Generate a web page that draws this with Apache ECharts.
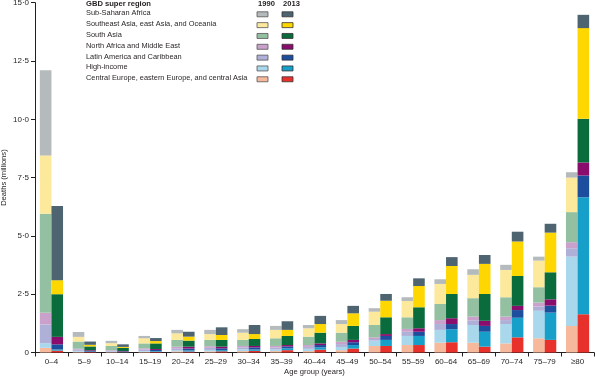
<!DOCTYPE html>
<html><head><meta charset="utf-8">
<script src="https://cdn.jsdelivr.net/npm/echarts@6/dist/echarts.min.js"></script>
<style>html,body{margin:0;padding:0;background:#fff}#c{width:595px;height:381px}</style>
</head><body><div id="c"></div>
<script>
// Categories (x-axis tick labels)
const ageGroups = ['0–4','5–9','10–14','15–19','20–24','25–29','30–34','35–39','40–44','45–49','50–54','55–59','60–64','65–69','70–74','75–79','≥80'];
// Regions, bottom of stack to top
const regions = ['Central Europe, eastern Europe, and central Asia','High-income','Latin America and Caribbean','North Africa and Middle East','South Asia','Southeast Asia, east Asia, and Oceania','Sub-Saharan Africa'];
const colors1990 = ['#f6b99b','#a9d8ec','#aeb0d8','#c9a1cb','#94c0a2','#fde99c','#b5babd'];
const colors2013 = ['#e8312a','#169fc9','#1c4e9d','#8a0c6d','#0a6b3c','#fed700','#4e6571'];
const yTickValues = [0, 2.5, 5, 7.5, 10, 12.5, 15];

// Deaths (millions), 1990
const ce1990  = [0.20,0.03,0.02,0.03,0.05,0.05,0.06,0.06,0.06,0.10,0.28,0.32,0.42,0.42,0.39,0.61,1.14];
const hi1990  = [0.20,0.04,0.02,0.03,0.05,0.06,0.08,0.07,0.10,0.14,0.23,0.39,0.55,0.76,0.83,1.18,2.97];
const la1990  = [0.80,0.05,0.03,0.07,0.08,0.09,0.08,0.08,0.08,0.12,0.07,0.18,0.25,0.20,0.17,0.18,0.36];
const na1990  = [0.50,0.04,0.03,0.05,0.07,0.07,0.06,0.07,0.08,0.10,0.07,0.12,0.17,0.16,0.15,0.17,0.26];
const sa1990  = [4.25,0.31,0.18,0.21,0.29,0.27,0.26,0.33,0.36,0.39,0.53,0.50,0.69,0.79,0.83,0.66,1.29];
const sea1990 = [2.50,0.20,0.12,0.22,0.28,0.25,0.31,0.36,0.36,0.37,0.57,0.70,0.86,1.00,1.17,1.14,1.48];
const ssa1990 = [3.65,0.21,0.10,0.10,0.15,0.18,0.15,0.17,0.14,0.17,0.15,0.16,0.20,0.24,0.22,0.17,0.23];
// Deaths (millions), 2013
const ce2013  = [0.08,0.02,0.01,0.03,0.04,0.05,0.07,0.10,0.12,0.17,0.28,0.32,0.44,0.25,0.65,0.54,1.64];
const hi2013  = [0.05,0.02,0.01,0.03,0.05,0.05,0.06,0.08,0.10,0.15,0.26,0.39,0.56,0.64,0.84,1.17,5.02];
const la2013  = [0.22,0.03,0.02,0.05,0.08,0.08,0.09,0.08,0.10,0.12,0.17,0.18,0.22,0.25,0.33,0.30,0.93];
const na2013  = [0.32,0.03,0.02,0.04,0.08,0.07,0.06,0.06,0.07,0.10,0.08,0.15,0.25,0.22,0.18,0.27,0.56];
const sa2013  = [1.83,0.16,0.14,0.24,0.26,0.29,0.30,0.39,0.46,0.60,0.72,0.90,1.04,1.15,1.28,1.16,1.87];
const sea2013 = [0.60,0.07,0.04,0.10,0.17,0.21,0.21,0.26,0.37,0.54,0.71,0.91,1.20,1.29,1.48,1.70,3.89];
const ssa2013 = [3.18,0.14,0.11,0.13,0.21,0.33,0.39,0.37,0.35,0.32,0.29,0.33,0.38,0.38,0.42,0.38,0.57];

const data1990 = [ce1990, hi1990, la1990, na1990, sa1990, sea1990, ssa1990];
const data2013 = [ce2013, hi2013, la2013, na2013, sa2013, sea2013, ssa2013];

const FONT = 'Liberation Sans, Arial, sans-serif';
const TXT = '#231f20';

const series = [];
regions.forEach((r, i) => {
  series.push({ name: r + ' 1990', type: 'bar', stack: 's1990', data: data1990[i],
    barWidth: 11.6, barGap: '0%', itemStyle: { color: colors1990[i] }, emphasis: { disabled: true } });
});
regions.forEach((r, i) => {
  series.push({ name: r + ' 2013', type: 'bar', stack: 's2013', data: data2013[i],
    barWidth: 11.6, barGap: '0%', itemStyle: { color: colors2013[i] }, emphasis: { disabled: true } });
});

// Legend drawn as graphic (two swatch columns)
const legendEls = [];
legendEls.push({ type: 'text', left: 86, top: 0, style: { text: 'GBD super region', font: 'bold 7.6px ' + FONT, fill: TXT } });
legendEls.push({ type: 'text', left: 258, top: 0, style: { text: '1990', font: 'bold 7.6px ' + FONT, fill: TXT } });
legendEls.push({ type: 'text', left: 283, top: 0, style: { text: '2013', font: 'bold 7.6px ' + FONT, fill: TXT } });
for (let k = 0; k < regions.length; k++) {
  const i = regions.length - 1 - k;
  const cy = 14.3 + k * 10.83;
  legendEls.push({ type: 'text', left: 86, top: cy - 4.6, style: { text: regions[i], font: '7.4px ' + FONT, fill: TXT } });
  legendEls.push({ type: 'rect', shape: { x: 257, y: cy - 2.5, width: 11, height: 5 }, style: { fill: colors1990[i], stroke: '#555', lineWidth: 0.8 } });
  legendEls.push({ type: 'rect', shape: { x: 282, y: cy - 2.5, width: 11, height: 5 }, style: { fill: colors2013[i], stroke: '#333', lineWidth: 0.8 } });
}

const chart = echarts.init(document.getElementById('c'), null, { renderer: 'canvas' });
chart.setOption({
  animation: false,
  backgroundColor: '#fff',
  grid: { left: 35, right: 1, top: 2.7, bottom: 28.5, containLabel: false, outerBoundsMode: 'none' },
  xAxis: {
    type: 'category', data: ageGroups,
    name: 'Age group (years)', nameLocation: 'middle', nameGap: 15, nameMoveOverlap: false,
    nameTextStyle: { fontSize: 7.6, fontFamily: FONT, color: TXT },
    axisLine: { lineStyle: { color: TXT, width: 1 } },
    axisTick: { show: true, length: 4, lineStyle: { color: TXT } },
    axisLabel: { fontSize: 8, fontFamily: FONT, color: TXT, margin: 5, interval: 0 }
  },
  yAxis: {
    type: 'value', min: 0, max: 15, interval: 2.5,
    name: 'Deaths (millions)', nameLocation: 'middle', nameGap: 27, nameMoveOverlap: false,
    nameTextStyle: { fontSize: 7.6, fontFamily: FONT, color: TXT },
    axisLine: { show: true, lineStyle: { color: TXT, width: 1 } },
    axisTick: { show: true, length: 4, lineStyle: { color: TXT } },
    splitLine: { show: false },
    axisLabel: { fontSize: 8, fontFamily: FONT, color: TXT, margin: 6,
      formatter: v => (yTickValues.indexOf(v) < 0 ? '' : (v === 0 ? '0' : v.toFixed(1).replace('.', '·'))) }
  },
  graphic: legendEls,
  series: series
});
</script>
</body></html>
